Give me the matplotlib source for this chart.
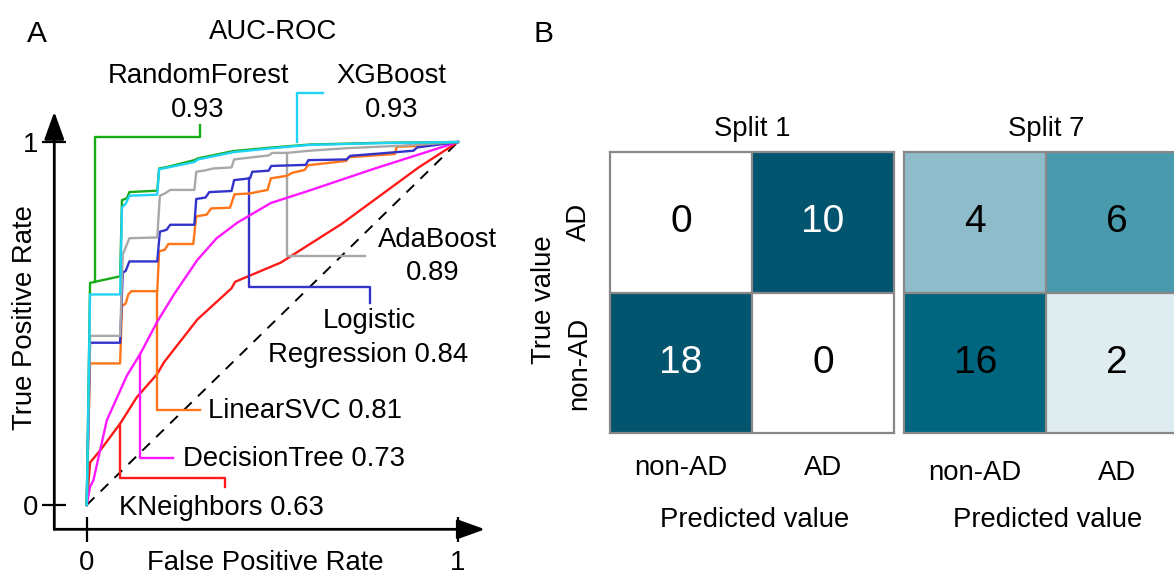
import numpy as np
import matplotlib
matplotlib.use("Agg")
import matplotlib.pyplot as plt
from matplotlib.colors import LinearSegmentedColormap

plt.rcParams['font.family'] = ['Liberation Sans', 'DejaVu Sans']

# ---------------- data: ROC curves ----------------
rf_fpr = [0, 0.009, 0.09, 0.095, 0.108, 0.115, 0.19, 0.195, 0.22, 0.29, 0.30, 0.395, 0.5, 0.6, 0.8, 1.0]
rf_tpr = [0, 0.612, 0.63, 0.84, 0.845, 0.862, 0.866, 0.927, 0.932, 0.95, 0.955, 0.975, 0.985, 0.993, 0.998, 1.0]

xgb_fpr = [0, 0.009, 0.09, 0.095, 0.105, 0.115, 0.19, 0.195, 0.22, 0.29, 0.30, 0.395, 0.5, 0.6, 0.8, 1.0]
xgb_tpr = [0, 0.58, 0.58, 0.82, 0.83, 0.852, 0.855, 0.925, 0.93, 0.945, 0.952, 0.972, 0.983, 0.992, 0.997, 1.0]

ada_fpr = [0, 0.009, 0.09, 0.097, 0.105, 0.115, 0.19, 0.197, 0.21, 0.225, 0.29, 0.295, 0.32, 0.34, 0.39,
           0.397, 0.43, 0.49, 0.5, 0.54, 0.6, 0.7, 0.85, 1.0]
ada_tpr = [0, 0.466, 0.466, 0.69, 0.71, 0.735, 0.737, 0.852, 0.858, 0.868, 0.868, 0.918, 0.922, 0.927, 0.93,
           0.952, 0.956, 0.963, 0.97, 0.97, 0.976, 0.983, 0.99, 1.0]

lr_fpr = [0, 0.009, 0.09, 0.097, 0.105, 0.115, 0.19, 0.197, 0.215, 0.225, 0.29, 0.295, 0.32, 0.33, 0.39,
          0.397, 0.44, 0.446, 0.49, 0.497, 0.59, 0.597, 0.70, 0.71, 0.785, 0.88, 0.89, 1.0]
lr_tpr = [0, 0.447, 0.447, 0.64, 0.645, 0.671, 0.671, 0.753, 0.758, 0.772, 0.772, 0.843, 0.847, 0.862, 0.865,
          0.895, 0.9, 0.918, 0.921, 0.934, 0.937, 0.95, 0.952, 0.962, 0.968, 0.976, 0.985, 1.0]

svc_fpr = [0, 0.009, 0.09, 0.095, 0.105, 0.112, 0.12, 0.19, 0.195, 0.21, 0.22, 0.287, 0.295, 0.323, 0.335,
           0.386, 0.398, 0.4376, 0.487, 0.496, 0.54, 0.553, 0.587, 0.596, 0.699, 0.705, 0.83, 0.835, 0.92, 0.93, 1.0]
svc_tpr = [0, 0.39, 0.39, 0.548, 0.555, 0.58, 0.589, 0.589, 0.699, 0.703, 0.719, 0.719, 0.795, 0.80, 0.817,
           0.819, 0.856, 0.858, 0.868, 0.90, 0.907, 0.915, 0.923, 0.936, 0.948, 0.958, 0.967, 0.987, 0.99, 0.998, 1.0]

dt_fpr = [0, 0.009, 0.018, 0.054, 0.108, 0.144, 0.19, 0.235, 0.298, 0.35, 0.406, 0.496, 0.596, 0.776, 1.0]
dt_tpr = [0, 0.05, 0.068, 0.233, 0.356, 0.416, 0.505, 0.58, 0.675, 0.735, 0.778, 0.832, 0.865, 0.927, 1.0]

knn_fpr = [0, 0.009, 0.036, 0.09, 0.135, 0.19, 0.208, 0.298, 0.39, 0.40, 0.523, 0.686, 0.894, 1.0]
knn_tpr = [0, 0.117, 0.15, 0.224, 0.297, 0.361, 0.393, 0.511, 0.597, 0.615, 0.668, 0.774, 0.93, 1.0]

model_names = ["RandomForest", "XGBoost", "AdaBoost", "Logistic\nRegression", "LinearSVC",
               "DecisionTree", "KNeighbors"]
model_auc = [0.93, 0.93, 0.89, 0.84, 0.81, 0.73, 0.63]

# ---------------- data: confusion matrices ----------------
true_labels = ["AD", "non-AD"]
pred_labels = ["non-AD", "AD"]
split_titles = ["Split 1", "Split 7"]
cm_split1 = [[0, 10], [18, 0]]
cm_split7 = [[4, 6], [16, 2]]

# ---------------- figure ----------------
W, H = 1174, 574
fig = plt.figure(figsize=(W / 100, H / 100), dpi=100)


def px_box(l, t, r, b):
    return [l / W, 1 - b / H, (r - l) / W, (b - t) / H]


def ftext(x, y, s, **kw):
    return fig.text(x / W, 1 - y / H, s, **kw)


FS = 19.8

# ---------------- panel A ----------------
axA = fig.add_axes(px_box(54.3, 111.7, 485, 529.3))
axA.set_xlim(-0.0873, 1.0727)
axA.set_ylim(-0.067, 1.0835)
for s in axA.spines.values():
    s.set_visible(False)
axA.patch.set_visible(False)

arrow_kw = dict(arrowstyle='-|>,head_length=1.0,head_width=0.36', lw=2.0, color='black',
                shrinkA=0, shrinkB=0, mutation_scale=17)
axA.annotate('', xy=(0, 1), xytext=(0, 0), xycoords='axes fraction', arrowprops=arrow_kw)
axA.annotate('', xy=(1, 0), xytext=(0, 0), xycoords='axes fraction', arrowprops=arrow_kw)

axA.set_xticks([0, 1])
axA.set_xticklabels(["0", "1"])
axA.set_yticks([0, 1])
axA.set_yticklabels(["0", "1"])
axA.tick_params(axis='x', direction='inout', length=18, width=1.6, pad=6, labelsize=FS)
axA.tick_params(axis='y', direction='inout', length=17, width=1.6, pad=3, labelsize=FS)

colors = ['#18ab18', '#1ed3f5', '#a8a8a8', '#3333cc', '#ff7518', '#ff18ff', '#ff1a1a']
curves = [(rf_fpr, rf_tpr), (xgb_fpr, xgb_tpr), (ada_fpr, ada_tpr), (lr_fpr, lr_tpr),
          (svc_fpr, svc_tpr), (dt_fpr, dt_tpr), (knn_fpr, knn_tpr)]

axA.plot([0, 1], [0, 1], color='black', lw=1.4, dashes=(5.5, 4.5), zorder=1)
draw_order = [6, 5, 4, 3, 2, 0, 1]
for rank, i in enumerate(draw_order):
    fx, ty = curves[i]
    axA.plot(fx, ty, color=colors[i], lw=1.7, zorder=2 + rank * 0.01)

# leader lines (layout, in data units)
leaders = [
    ([0.022, 0.022, 0.305, 0.305], [0.614, 1.015, 1.015, 1.047]),
    ([0.566, 0.566, 0.636], [0.999, 1.134, 1.134]),
    ([0.539, 0.539, 0.750], [0.970, 0.687, 0.687]),
    ([0.438, 0.438, 0.763, 0.763], [0.900, 0.600, 0.600, 0.556]),
    ([0.1885, 0.1885, 0.305], [0.589, 0.262, 0.262]),
    ([0.1436, 0.1436, 0.233], [0.416, 0.129, 0.129]),
    ([0.0897, 0.0897, 0.3725, 0.3725], [0.224, 0.075, 0.075, 0.050]),
]
for i, (lx, ly) in enumerate(leaders):
    axA.plot(lx, ly, color=colors[i], lw=1.7, clip_on=False, zorder=2)

# annotation texts (pixel layout)
ftext(198, 83.3, model_names[0], fontsize=FS, ha='center', va='baseline')
ftext(198, 116.7, f"{model_auc[0]:.2f}", fontsize=FS, ha='center', va='baseline')
ftext(391, 83.3, model_names[1], fontsize=FS, ha='center', va='baseline')
ftext(392, 116.7, f"{model_auc[1]:.2f}", fontsize=FS, ha='center', va='baseline')
ftext(438, 246.7, model_names[2], fontsize=FS, ha='center', va='baseline')
ftext(433, 280, f"{model_auc[2]:.2f}", fontsize=FS, ha='center', va='baseline')
lr1, lr2 = model_names[3].split("\n")
ftext(369, 328.3, lr1, fontsize=FS, ha='center', va='baseline')
ftext(368, 361.7, f"{lr2} {model_auc[3]:.2f}", fontsize=FS, ha='center', va='baseline')
ftext(208, 418.3, f"{model_names[4]} {model_auc[4]:.2f}", fontsize=FS, ha='left', va='baseline')
ftext(183, 466, f"{model_names[5]} {model_auc[5]:.2f}", fontsize=FS, ha='left', va='baseline')
ftext(119, 515, f"{model_names[6]} {model_auc[6]:.2f}", fontsize=FS, ha='left', va='baseline')

ftext(273, 39.3, "AUC-ROC", fontsize=FS, ha='center', va='baseline')
ftext(36.7, 41.7, "A", fontsize=21.5, ha='center', va='baseline')
ftext(543, 41.7, "B", fontsize=21.5, ha='center', va='baseline')
ftext(265, 569.5, "False Positive Rate", fontsize=FS, ha='center', va='baseline')
ftext(25.5, 318, "True Positive Rate", fontsize=FS, ha='center', va='center', rotation=90)

# ---------------- panel B ----------------
cmap = LinearSegmentedColormap.from_list(
    "teal", [(0.0, '#ffffff'), (0.111, '#dfecf0'), (0.4, '#8ebccb'), (0.6, '#4a9aad'),
             (0.889, '#00667f'), (1.0, '#03546f')])

boxes = [px_box(610, 151.7, 894, 433.3), px_box(904.3, 151.7, 1188, 433.3)]
xpads = [15.5, 19]
centers = [752, 1046]
for k, cm in enumerate([cm_split1, cm_split7]):
    ax = fig.add_axes(boxes[k])
    m = np.array(cm, dtype=float)
    norm = m / m.sum(axis=1, keepdims=True)
    ax.imshow(norm, cmap=cmap, vmin=0, vmax=1, aspect='auto')
    ax.axvline(0.5, color='#888888', lw=1.6)
    ax.axhline(0.5, color='#888888', lw=1.6)
    for s in ax.spines.values():
        s.set_color('#888888')
        s.set_linewidth(1.6)
    for r in range(2):
        for c in range(2):
            ax.text(c, r, f"{cm[r][c]}", ha='center', va='center', fontsize=28,
                    color='white' if norm[r, c] > 0.95 else 'black')
    ax.set_xticks([0, 1])
    ax.set_xticklabels(pred_labels, fontsize=FS)
    ax.tick_params(axis='x', length=0, pad=xpads[k])
    if k == 0:
        ax.set_yticks([0, 1])
        ax.set_yticklabels(true_labels, fontsize=FS, rotation=90, va='center')
        ax.tick_params(axis='y', length=0, pad=13)
    else:
        ax.set_yticks([])
    ftext(centers[k], 136, split_titles[k], fontsize=FS, ha='center', va='baseline')
    ftext(centers[k] + (3 if k == 0 else 2), 526.7, "Predicted value", fontsize=FS, ha='center', va='baseline')

ftext(544, 300, "True value", fontsize=FS, ha='center', va='center', rotation=90)

fig.savefig("out.png", dpi=100)
